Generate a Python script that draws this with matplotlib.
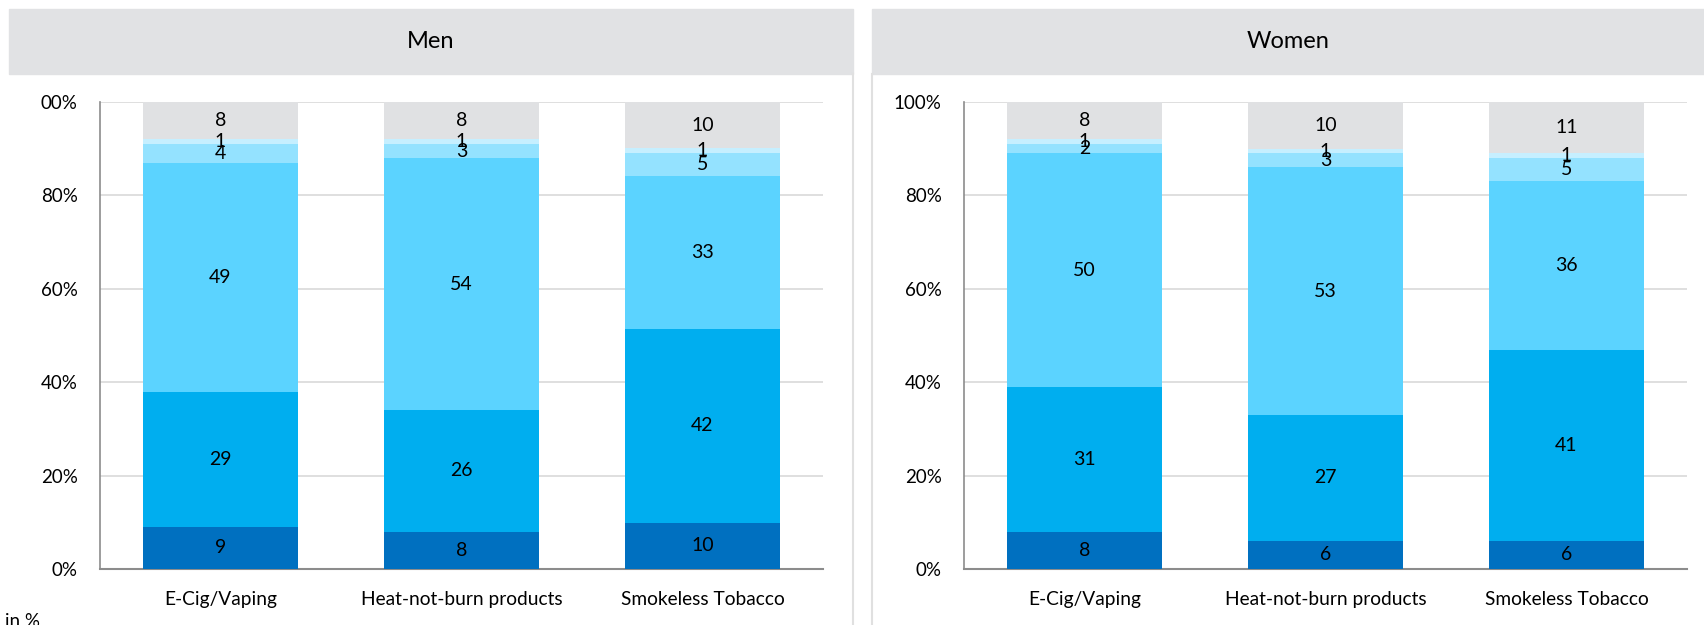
import numpy as np
import matplotlib
matplotlib.use("Agg")
from matplotlib import pyplot as plt
from matplotlib.patches import Rectangle
from matplotlib.lines import Line2D

plt.rcParams['font.family'] = ['Lato', 'DejaVu Sans']

products = ["E-Cig/Vaping", "Heat-not-burn products", "Smokeless Tobacco"]

# answer shares per product, bottom to top of the stack
men_1 = [9, 8, 10]
men_2 = [29, 26, 42]
men_3 = [49, 54, 33]
men_4 = [4, 3, 5]
men_5 = [1, 1, 1]
men_dk = [8, 8, 10]

women_1 = [8, 6, 6]
women_2 = [31, 27, 41]
women_3 = [50, 53, 36]
women_4 = [2, 3, 5]
women_5 = [1, 1, 1]
women_dk = [8, 10, 11]

colors = ["#0070C0", "#00AEEF", "#5BD3FF", "#94E2FF", "#C6EFFF", "#E0E1E3"]
header_gray = "#E1E2E4"

W, H = 1704, 625
fig = plt.figure(figsize=(W / 100, H / 100), dpi=100)


def panel(ax, series, top_label):
    series = np.array(series, dtype=float)
    total = series.sum(axis=0)
    shares = series / total * 100  # 100% stacked
    x = np.arange(len(products))
    bottom = np.zeros(len(products))
    for vals, lab, c in zip(shares, series, colors):
        ax.bar(x, vals, bottom=bottom, width=0.645, color=c, zorder=3)
        for xi, b, v, l in zip(x, bottom, vals, lab):
            ax.text(xi, b + v / 2, f"{l:.0f}", ha="center", va="center",
                    fontsize=14, color="black", zorder=4)
        bottom += vals
    ax.set_xlim(-0.5, 2.5)
    ax.set_ylim(0, 100)
    ax.set_yticks([0, 20, 40, 60, 80, 100])
    ax.set_yticklabels(["0%", "20%", "40%", "60%", "80%", top_label])
    ax.set_xticks(x)
    ax.set_xticklabels(products)
    ax.tick_params(axis="y", length=0, pad=16, labelsize=13.5)
    ax.tick_params(axis="x", length=0, pad=16, labelsize=13.8)
    ax.grid(axis="y", color="#D9D9D9", linewidth=1.2, zorder=0)
    for s in ["top", "right"]:
        ax.spines[s].set_visible(False)
    ax.spines["left"].set_color("#8C8C8C")
    ax.spines["bottom"].set_color("#8C8C8C")
    ax.spines["left"].set_linewidth(1.2)
    ax.spines["bottom"].set_linewidth(1.5)


ax1 = fig.add_axes([100 / W, 56 / H, 723 / W, 467 / H])
ax2 = fig.add_axes([964 / W, 56 / H, 723 / W, 467 / H])
panel(ax1, [men_1, men_2, men_3, men_4, men_5, men_dk], "00%")
panel(ax2, [women_1, women_2, women_3, women_4, women_5, women_dk], "100%")

# panel headers
for x0, x1, title in [(9, 853, "Men"), (872, 1704, "Women")]:
    fig.patches.append(Rectangle((x0 / W, 1 - 74 / H), (x1 - x0) / W, 65 / H,
                                 transform=fig.transFigure, color=header_gray,
                                 zorder=0))
    fig.text((x0 + x1) / 2 / W, 1 - 41 / H, title, ha="center", va="center",
             fontsize=17)

# panel frame lines
for xl in [853, 872]:
    fig.lines.append(Line2D([xl / W, xl / W], [0, 1 - 74 / H],
                            transform=fig.transFigure, color="#E0E0E0",
                            linewidth=1.5))

fig.text(0.003, 1 - 613 / H, "in %", ha="left", va="top", fontsize=13.5)

fig.savefig("out.png", dpi=100)
